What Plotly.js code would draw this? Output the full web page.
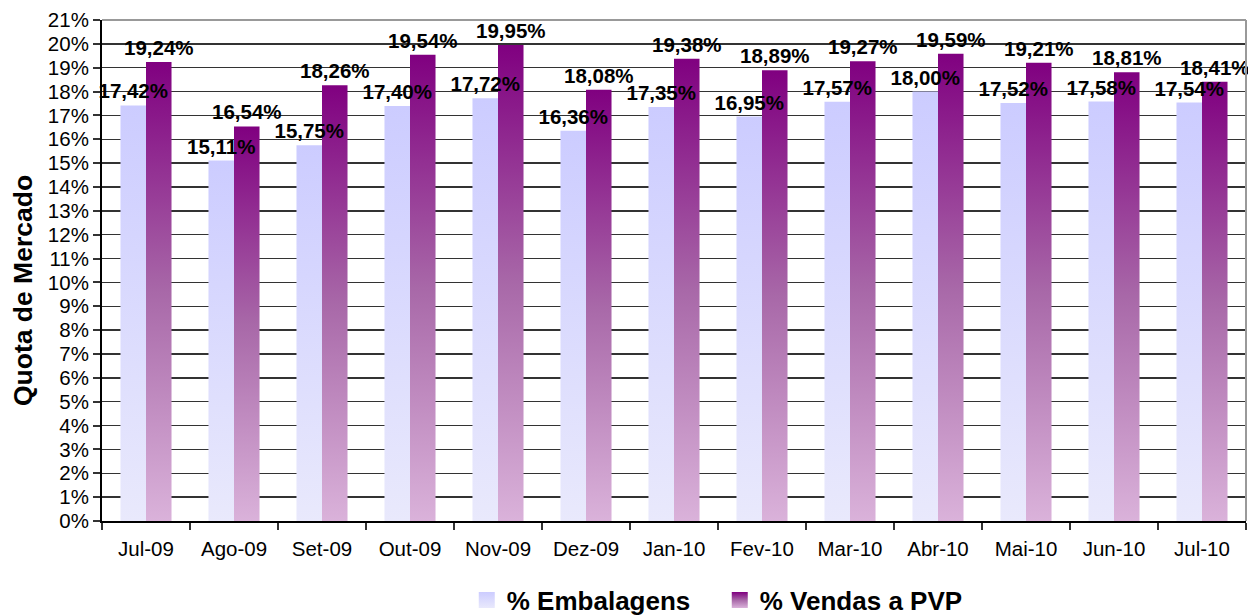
<!DOCTYPE html>
<html>
<head>
<meta charset="utf-8">
<script src="https://cdn.plot.ly/plotly-3.0.1.min.js"></script>
<style>
  html, body { margin: 0; padding: 0; background: #fff; }
  #chart { width: 1248px; height: 615px; }
</style>
</head>
<body>
<div id="chart"></div>
<script>
const categories = ['Jul-09','Ago-09','Set-09','Out-09','Nov-09','Dez-09','Jan-10','Fev-10','Mar-10','Abr-10','Mai-10','Jun-10','Jul-10'];
const embalagens = [0.1742,0.1511,0.1575,0.1740,0.1772,0.1636,0.1735,0.1695,0.1757,0.1800,0.1752,0.1758,0.1754];
const vendasPVP = [0.1924,0.1654,0.1826,0.1954,0.1995,0.1808,0.1938,0.1889,0.1927,0.1959,0.1921,0.1881,0.1841];
const seriesNames = ['% Embalagens','% Vendas a PVP'];
const yTickVals = [0,0.01,0.02,0.03,0.04,0.05,0.06,0.07,0.08,0.09,0.10,0.11,0.12,0.13,0.14,0.15,0.16,0.17,0.18,0.19,0.20,0.21];
const yTitle = 'Quota de Mercado';

const FONT = 'Arial, "Liberation Sans", sans-serif';
const labelFont = {family: FONT, size: 20.5, color: '#000', weight: 'bold'};

const traces = [
  {
    type: 'bar', name: seriesNames[0], x: categories, y: embalagens,
    marker: {color: '#d8d8fd', line: {width: 0}},
    texttemplate: '<b>%{y:.2%}</b>', textposition: 'outside',
    textfont: labelFont, cliponaxis: false, constraintext: 'none',
    hoverinfo: 'x+y'
  },
  {
    type: 'bar', name: seriesNames[1], x: categories, y: vendasPVP,
    marker: {color: '#a860a8', line: {width: 0}},
    texttemplate: '<b>%{y:.2%}</b>', textposition: 'outside',
    textfont: labelFont, cliponaxis: false, constraintext: 'none',
    hoverinfo: 'x+y'
  }
];

const layout = {
  width: 1248, height: 615,
  margin: {l: 102, r: 2, t: 20, b: 94, autoexpand: false},
  paper_bgcolor: '#fff', plot_bgcolor: '#fff',
  separators: ', ',
  barmode: 'group', bargap: 0.42, bargroupgap: 0,
  font: {family: FONT, color: '#000'},
  xaxis: {
    type: 'category',
    showline: true, linecolor: '#000', linewidth: 2,
    ticks: 'outside', ticklen: 7, tickcolor: '#333', tickwidth: 2,
    tickson: 'boundaries', ticklabelstandoff: 8,
    tickfont: {family: FONT, size: 20.5, color: '#000'},
    showgrid: false, zeroline: false,
    automargin: false
  },
  yaxis: {
    range: [0, 0.21],
    tickvals: yTickVals, tickformat: '.0%',
    showline: true, linecolor: '#000', linewidth: 2,
    ticks: 'outside', ticklen: 7, tickcolor: '#333', tickwidth: 2,
    tickfont: {family: FONT, size: 20.5, color: '#000'},
    showgrid: true, gridcolor: '#333', gridwidth: 1.5,
    zeroline: false,
    automargin: false
  },
  annotations: [
    {text: '<b>' + yTitle + '</b>', xref: 'paper', yref: 'paper', x: -0.069, y: 0.459,
     xanchor: 'center', yanchor: 'middle', textangle: -90, showarrow: false,
     font: {family: FONT, size: 26.5, color: '#000'}}
  ],
  shapes: [
    {type: 'line', xref: 'paper', yref: 'paper', x0: 1, x1: 1, y0: 0, y1: 1, line: {color: '#999', width: 2}},
    {type: 'line', xref: 'paper', yref: 'paper', x0: 0, x1: 1, y0: 1, y1: 1, line: {color: '#999', width: 2}}
  ],
  showlegend: true,
  legend: {
    orientation: 'h', x: 0.54, xanchor: 'center', y: -0.158, yanchor: 'middle',
    font: {family: FONT, size: 26, color: '#000', weight: 'bold'},
    itemwidth: 30, entrywidth: 208, entrywidthmode: 'pixels',
    itemclick: false, traceorder: 'normal'
  }
};

Plotly.newPlot('chart', traces, layout, {displayModeBar: false, staticPlot: true}).then(function (gd) {
  const svgNS = 'http://www.w3.org/2000/svg';
  const defs = gd.querySelector('.main-svg defs');
  function addGrad(id, stops) {
    const g = document.createElementNS(svgNS, 'linearGradient');
    g.setAttribute('id', id);
    g.setAttribute('x1', '0'); g.setAttribute('y1', '0');
    g.setAttribute('x2', '0'); g.setAttribute('y2', '1');
    stops.forEach(function (s) {
      const st = document.createElementNS(svgNS, 'stop');
      st.setAttribute('offset', s[0]);
      st.setAttribute('stop-color', s[1]);
      g.appendChild(st);
    });
    defs.appendChild(g);
  }
  addGrad('gradEmb', [['0', '#ccccff'], ['1', '#e9e9fc']]);
  addGrad('gradPvp', [['0', '#800080'], ['0.5', '#a868a8'], ['1', '#dab2da']]);
  const ids = ['gradEmb', 'gradPvp'];
  const barlayer = gd.querySelector('.barlayer');
  const textLayer = document.createElementNS(svgNS, 'g');
  gd.querySelectorAll('.barlayer .trace').forEach(function (t, i) {
    t.querySelectorAll('.point path').forEach(function (p) { p.style.fill = 'url(#' + ids[i] + ')'; });
    t.querySelectorAll('.point text').forEach(function (tx) { textLayer.appendChild(tx); });
  });
  barlayer.appendChild(textLayer);
  gd.querySelectorAll('.legend .traces').forEach(function (t, i) {
    t.querySelectorAll('.legendpoints path').forEach(function (p) {
      p.style.fill = 'url(#' + ids[i] + ')';
      p.style.stroke = 'none';
      p.setAttribute('d', 'M8,8H-8V-8H8Z');
    });
  });
});
</script>
</body>
</html>
